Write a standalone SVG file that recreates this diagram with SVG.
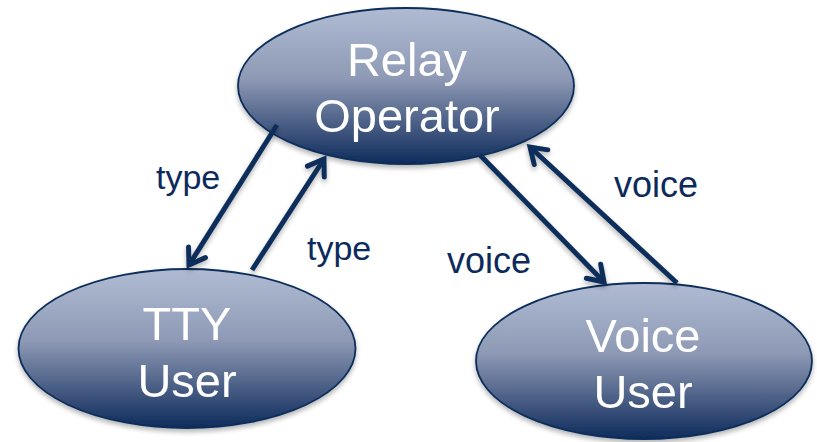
<svg xmlns="http://www.w3.org/2000/svg" width="817" height="442" viewBox="0 0 817 442">
<defs>
<linearGradient id="g" x1="0" y1="0" x2="0" y2="1">
<stop offset="0" stop-color="#b0bbd3"/>
<stop offset="0.45" stop-color="#8e99b5"/>
<stop offset="1" stop-color="#0e2b5b"/>
</linearGradient>
<filter id="sh" x="-10%" y="-10%" width="120%" height="130%">
<feGaussianBlur in="SourceAlpha" stdDeviation="2.5"/>
<feOffset dx="0" dy="3" result="b"/>
<feComponentTransfer><feFuncA type="linear" slope="0.3"/></feComponentTransfer>
<feMerge><feMergeNode/><feMergeNode in="SourceGraphic"/></feMerge>
</filter>
<marker id="ah" markerUnits="userSpaceOnUse" markerWidth="30" markerHeight="30" viewBox="-20 -15 30 30" refX="0" refY="0" orient="auto">
<path d="M -15 -10 L 0 0 L -15 10" fill="none" stroke="#0b2f5a" stroke-width="5" stroke-linejoin="miter" stroke-linecap="round"/>
</marker>
</defs>
<style>
.node ellipse{fill:url(#g);stroke:#0b2f5a;stroke-width:1.8}
.nt{font-family:"Liberation Sans",Arial,sans-serif;font-size:47px;fill:#ffffff;text-anchor:middle}
.lbl{font-family:"Liberation Sans",Arial,sans-serif;font-size:34px;fill:#0c2a5c}
.lbl.v{font-size:36px}
.conn line{stroke:#0b2f5a;stroke-width:5;marker-end:url(#ah)}
</style>
<g id="relay" class="node" filter="url(#sh)">
<ellipse cx="406" cy="86" rx="168" ry="78"/>
<text class="nt" x="407" y="76">Relay</text>
<text class="nt" x="407" y="132">Operator</text>
</g>
<g id="tty" class="node" filter="url(#sh)">
<ellipse cx="187" cy="348.5" rx="168.5" ry="79.5"/>
<text class="nt" x="187" y="340">TTY</text>
<text class="nt" x="187" y="397">User</text>
</g>
<g id="voice" class="node" filter="url(#sh)">
<ellipse cx="644" cy="361" rx="168" ry="78"/>
<text class="nt" x="643" y="352">Voice</text>
<text class="nt" x="643" y="408">User</text>
</g>
<g id="connectors" class="conn" filter="url(#sh)">
<line x1="277" y1="125" x2="189" y2="265"/>
<line x1="252" y1="270" x2="324" y2="159"/>
<line x1="480" y1="155" x2="604" y2="282"/>
<line x1="677" y1="283" x2="530" y2="147"/>
</g>
<g id="labels">
<text class="lbl" x="156" y="189">type</text>
<text class="lbl" x="307" y="260">type</text>
<text class="lbl v" x="614" y="197">voice</text>
<text class="lbl v" x="447" y="273">voice</text>
</g>
</svg>
